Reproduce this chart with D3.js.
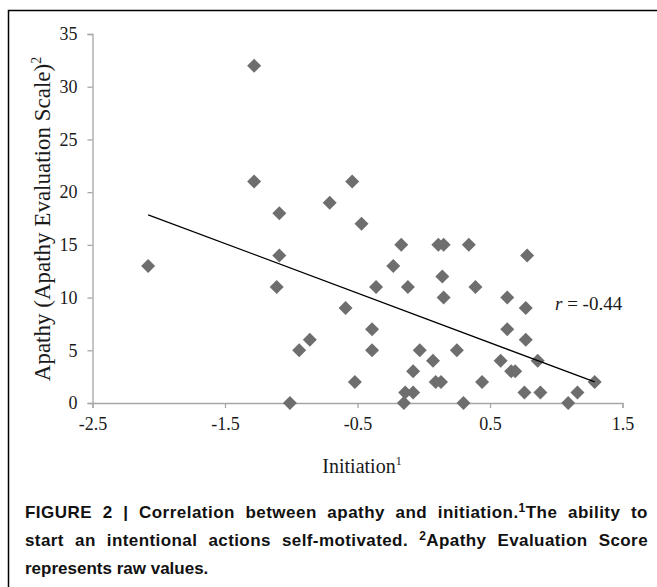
<!DOCTYPE html>
<html>
<head>
<meta charset="utf-8">
<script src="https://cdn.jsdelivr.net/npm/d3@7/dist/d3.min.js"></script>
<style>
  html, body { margin: 0; padding: 0; background: #fff; }
  svg { display: block; }
</style>
</head>
<body>
<script>
// Data
const initiation = [-2.08, -1.28, -1.28, -1.09, -1.09, -1.11, -1.01, -0.94, -0.86, -0.71,
  -0.59, -0.54, -0.52, -0.47, -0.39, -0.39, -0.36, -0.23, -0.17, -0.15,
  -0.14, -0.12, -0.08, -0.08, -0.03, 0.07, 0.09, 0.13, 0.11, 0.15,
  0.14, 0.15, 0.25, 0.30, 0.34, 0.39, 0.44, 0.58, 0.63, 0.63,
  0.66, 0.69, 0.76, 0.77, 0.77, 0.78, 0.86, 0.88, 1.09, 1.16, 1.29];
const apathy = [13, 32, 21, 18, 14, 11, 0, 5, 6, 19,
  9, 21, 2, 17, 7, 5, 11, 13, 15, 0,
  1, 11, 1, 3, 5, 4, 2, 2, 15, 15,
  12, 10, 5, 0, 15, 11, 2, 4, 10, 7,
  3, 3, 1, 9, 6, 14, 4, 1, 0, 1, 2];
const trendX = [-2.08, 1.29];
const trendY = [17.85, 2.0];
const xTicks = [-2.5, -1.5, -0.5, 0.5, 1.5];
const yTicks = [0, 5, 10, 15, 20, 25, 30, 35];
const rLabel = "-0.44";
const captionLines = [
  [{t: "FIGURE 2 | Correlation between apathy and initiation."}, {t: "1", sup: true}, {t: "The ability to"}],
  [{t: "start an intentional actions self-motivated. "}, {t: "2", sup: true}, {t: "Apathy Evaluation Score"}],
  [{t: "represents raw values."}]
];

const W = 657, H = 587;
const svg = d3.select("body").append("svg").attr("width", W).attr("height", H);

// Frame
svg.append("path").attr("d", `M8.5,${H} L8.5,10.5 L${W},10.5`)
  .attr("fill", "none").attr("stroke", "#000").attr("stroke-width", 1.5);

const x = d3.scaleLinear().domain([-2.5, 1.5]).range([92.5, 622.5]);
const y = d3.scaleLinear().domain([0, 35]).range([403, 34]);

const serif = "'Liberation Serif', 'Times New Roman', serif";
const axisColor = "#a6a6a6";

// Y axis
const yAxis = svg.append("g").attr("transform", `translate(${x(-2.5)},0)`)
  .call(d3.axisLeft(y).tickValues(yTicks).tickSize(5).tickPadding(10).tickFormat(d3.format("d")));
// X axis (plain hyphen minus as in the reference)
const xAxis = svg.append("g").attr("transform", `translate(0,${y(0)})`)
  .call(d3.axisBottom(x).tickValues(xTicks).tickSize(5).tickPadding(9).tickFormat(d => String(d)));

[yAxis, xAxis].forEach(g => {
  g.select(".domain").attr("stroke", axisColor).attr("stroke-width", 1.3);
  g.selectAll(".tick line").attr("stroke", axisColor).attr("stroke-width", 1.3);
  g.selectAll(".tick text").attr("fill", "#1a1a1a").style("font-family", serif).style("font-size", "18px");
});

// Points (diamonds)
const diamond = d3.symbol().type(d3.symbolSquare).size(98);
svg.append("g").selectAll("path").data(initiation.map((v, i) => [v, apathy[i]]))
  .join("path")
  .attr("d", diamond)
  .attr("transform", d => `translate(${x(d[0])},${y(d[1])}) rotate(45)`)
  .attr("fill", "#6e6e6e");

// Trend line
svg.append("line")
  .attr("x1", x(trendX[0])).attr("y1", y(trendY[0]))
  .attr("x2", x(trendX[1])).attr("y2", y(trendY[1]))
  .attr("stroke", "#000").attr("stroke-width", 1.3);

// r label
const rt = svg.append("text").attr("x", 555).attr("y", 310)
  .style("font-family", serif).style("font-size", "19px").attr("fill", "#1a1a1a");
rt.append("tspan").style("font-style", "italic").text("r");
rt.append("tspan").text(" = " + rLabel);

// Axis titles
const xt = svg.append("text").attr("x", 362).attr("y", 473).attr("text-anchor", "middle")
  .style("font-family", serif).style("font-size", "20px").attr("fill", "#1a1a1a");
xt.append("tspan").text("Initiation");
xt.append("tspan").attr("dy", -8).style("font-size", "12px").text("1");

const yt = svg.append("text").attr("transform", `translate(50,219) rotate(-90)`)
  .attr("text-anchor", "middle")
  .style("font-family", serif).style("font-size", "23px").attr("fill", "#1a1a1a");
yt.append("tspan").text("Apathy (Apathy Evaluation Scale)");
yt.append("tspan").attr("dy", -9).style("font-size", "14px").text("2");

// Caption (justified: slack shared between letters and word gaps)
const capY = [518, 546, 574];
const capWidth = 623;
captionLines.forEach((parts, i) => {
  const t = svg.append("text").attr("x", 25).attr("y", capY[i])
    .style("font-family", "'Liberation Sans', Arial, sans-serif")
    .style("font-weight", "bold").style("font-size", "17px").attr("fill", "#111");
  let raised = false;
  parts.forEach(p => {
    const s = t.append("tspan").text(p.t);
    if (p.sup) { s.attr("dy", -6).style("font-size", "12px"); raised = true; }
    else if (raised) { s.attr("dy", 6); raised = false; }
  });
  if (i < 2) {
    const str = parts.map(p => p.t).join("");
    const w = t.node().getComputedTextLength();
    const nSpaces = str.split(" ").length - 1;
    const nChars = str.length;
    if (w < capWidth) {
      const slack = capWidth - w;
      const ls = slack * 0.4 / nChars;
      t.style("letter-spacing", ls + "px");
      const w2 = t.node().getComputedTextLength();
      t.style("word-spacing", Math.max(0, (capWidth - w2) / nSpaces) + "px");
    } else {
      t.attr("textLength", capWidth).attr("lengthAdjust", "spacingAndGlyphs");
    }
  }
});
</script>
</body>
</html>
